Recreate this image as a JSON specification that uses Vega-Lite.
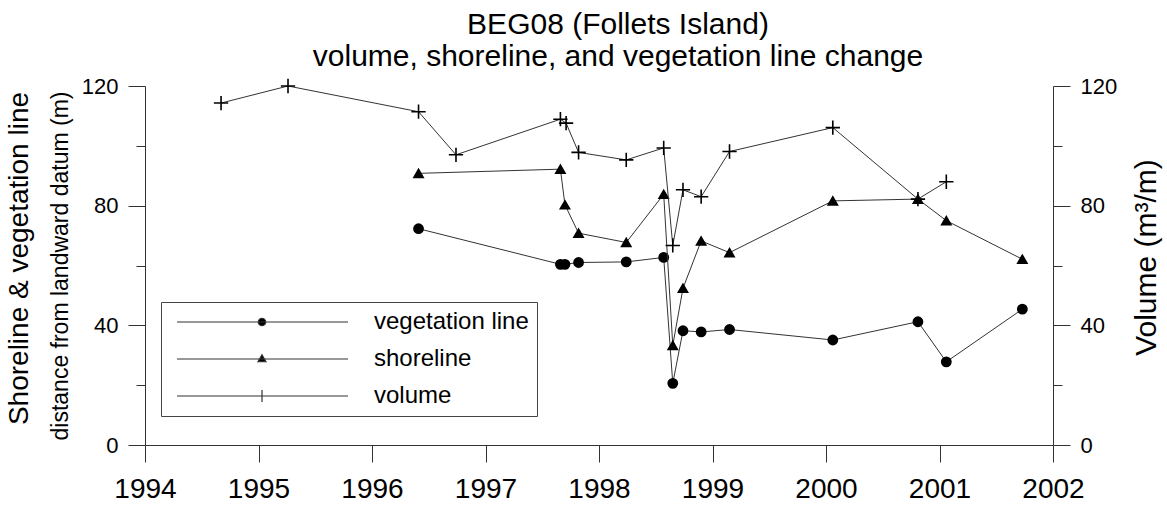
{
  "$schema": "https://vega.github.io/schema/vega-lite/v6.json",
  "width": 908,
  "height": 359,
  "autosize": "none",
  "padding": {"left": 145, "top": 86, "right": 114, "bottom": 61},
  "background": "white",
  "config": {
    "font": "Liberation Sans",
    "view": {"stroke": null},
    "axis": {"grid": false, "domainColor": "#333", "tickColor": "#333", "labelColor": "black", "titleColor": "black", "titleFontWeight": "normal", "domainWidth": 1, "tickWidth": 1}
  },
  "title": {
    "text": ["BEG08 (Follets Island)", "volume, shoreline, and vegetation line change"],
    "fontSize": 30, "fontWeight": "normal", "lineHeight": 32, "anchor": "middle", "frame": "group", "offset": 3, "dx": 19, "color": "black"
  },
  "data": {"values": [
    {"series": "vegetation line", "year": 1996.41, "value": 72.3},
    {"series": "vegetation line", "year": 1997.66, "value": 60.4},
    {"series": "vegetation line", "year": 1997.70, "value": 60.4},
    {"series": "vegetation line", "year": 1997.82, "value": 61.0},
    {"series": "vegetation line", "year": 1998.24, "value": 61.2},
    {"series": "vegetation line", "year": 1998.57, "value": 62.7},
    {"series": "vegetation line", "year": 1998.65, "value": 20.6},
    {"series": "vegetation line", "year": 1998.74, "value": 38.2},
    {"series": "vegetation line", "year": 1998.90, "value": 37.8},
    {"series": "vegetation line", "year": 1999.15, "value": 38.6},
    {"series": "vegetation line", "year": 2000.06, "value": 35.1},
    {"series": "vegetation line", "year": 2000.81, "value": 41.2},
    {"series": "vegetation line", "year": 2001.06, "value": 27.8},
    {"series": "vegetation line", "year": 2001.73, "value": 45.4},
    {"series": "shoreline", "year": 1996.41, "value": 90.8},
    {"series": "shoreline", "year": 1997.66, "value": 92.2},
    {"series": "shoreline", "year": 1997.70, "value": 80.3},
    {"series": "shoreline", "year": 1997.82, "value": 70.8},
    {"series": "shoreline", "year": 1998.24, "value": 67.7},
    {"series": "shoreline", "year": 1998.57, "value": 83.8},
    {"series": "shoreline", "year": 1998.65, "value": 33.3},
    {"series": "shoreline", "year": 1998.74, "value": 52.4},
    {"series": "shoreline", "year": 1998.90, "value": 68.2},
    {"series": "shoreline", "year": 1999.15, "value": 64.3},
    {"series": "shoreline", "year": 2000.06, "value": 81.6},
    {"series": "shoreline", "year": 2000.81, "value": 82.2},
    {"series": "shoreline", "year": 2001.06, "value": 75.0},
    {"series": "shoreline", "year": 2001.73, "value": 62.1},
    {"series": "volume", "year": 1994.67, "value": 114.3},
    {"series": "volume", "year": 1995.26, "value": 120.0},
    {"series": "volume", "year": 1996.41, "value": 111.4},
    {"series": "volume", "year": 1996.74, "value": 97.0},
    {"series": "volume", "year": 1997.66, "value": 108.9},
    {"series": "volume", "year": 1997.71, "value": 107.6},
    {"series": "volume", "year": 1997.82, "value": 97.8},
    {"series": "volume", "year": 1998.24, "value": 95.3},
    {"series": "volume", "year": 1998.57, "value": 99.3},
    {"series": "volume", "year": 1998.65, "value": 66.7},
    {"series": "volume", "year": 1998.74, "value": 85.3},
    {"series": "volume", "year": 1998.90, "value": 83.0},
    {"series": "volume", "year": 1999.15, "value": 98.1},
    {"series": "volume", "year": 2000.06, "value": 106.1},
    {"series": "volume", "year": 2000.81, "value": 82.2},
    {"series": "volume", "year": 2001.06, "value": 88.0}
  ]},
  "encoding": {
    "x": {
      "field": "year", "type": "quantitative",
      "scale": {"domain": [1994, 2002], "nice": false, "zero": false},
      "axis": {"values": [1994, 1995, 1996, 1997, 1998, 1999, 2000, 2001, 2002], "format": "d", "tickSize": 17, "labelFontSize": 28, "labelPadding": 13, "title": null, "labelFlush": false, "labelOverlap": false}
    }
  },
  "layer": [
    {
      "transform": [{"filter": "datum.series === 'vegetation line'"}],
      "encoding": {
        "y": {
          "field": "value", "type": "quantitative",
          "scale": {"domain": [0, 120], "nice": false},
          "axis": {
            "orient": "left", "values": [0, 20, 40, 60, 80, 100, 120],
            "labelExpr": "datum.value % 40 === 0 ? datum.label : ''",
            "tickSize": {"condition": {"test": "datum.value % 40 === 0", "value": 17}, "value": 9},
            "labelPadding": 10, "labelFontSize": 22,
            "title": "distance from landward datum (m)", "titleFontSize": 23, "titlePadding": 9
          }
        }
      },
      "layer": [
        {
          "mark": {"type": "line", "strokeWidth": 1},
          "encoding": {
            "color": {
              "field": "series", "type": "nominal",
              "scale": {"domain": ["vegetation line", "shoreline", "volume"], "range": ["#333", "#333", "#333"]},
              "legend": {
                "orient": "none", "legendX": 16, "legendY": 216, "title": null,
                "symbolSize": 100, "labelFontSize": 24, "labelOffset": 181, "rowPadding": 13, "padding": 8,
                "strokeColor": "#444", "fillColor": "white", "labelColor": "black",
                "encode": {"symbols": {"update": {
                  "shape": {"signal": "datum.value === 'vegetation line' ? 'M-0.8,0H33.4M16.95,0A0.75,0.75 0 1,1 15.45,0A0.75,0.75 0 1,1 16.95,0Z' : datum.value === 'shoreline' ? 'M-0.8,0H33.4M16.2,-0.85L17.0,0.55L15.4,0.55Z' : 'M-0.8,0H33.4M16.2,-1.2V1.2'"},
                  "fill": {"value": "black"},
                  "strokeWidth": {"value": 1.2},
                  "opacity": {"value": 1}
                }}}
              }
            }
          }
        },
        {"mark": {"type": "point", "shape": "circle", "filled": true, "color": "black", "size": 85, "strokeWidth": 1.6, "stroke": "black", "opacity": 1}}
      ]
    },
    {
      "transform": [{"filter": "datum.series === 'shoreline'"}],
      "encoding": {
        "y": {
          "field": "value", "type": "quantitative",
          "scale": {"domain": [0, 120], "nice": false},
          "axis": {"orient": "left", "labels": false, "ticks": false, "domain": false, "title": "Shoreline & vegetation line", "titleFontSize": 28, "titlePadding": 112, "titleY": 172}
        }
      },
      "layer": [
        {"mark": {"type": "line", "color": "#333", "strokeWidth": 1}},
        {"mark": {"type": "point", "shape": "triangle-up", "filled": true, "color": "black", "size": 85, "strokeWidth": 1.6, "stroke": "black", "opacity": 1}}
      ]
    },
    {
      "transform": [{"filter": "datum.series === 'volume'"}],
      "encoding": {
        "y": {
          "field": "value", "type": "quantitative",
          "scale": {"domain": [0, 120], "nice": false},
          "axis": {
            "orient": "right", "values": [0, 20, 40, 60, 80, 100, 120],
            "labelExpr": "datum.value % 40 === 0 ? datum.label : ''",
            "tickSize": {"condition": {"test": "datum.value % 40 === 0", "value": 17}, "value": 9},
            "labelPadding": 10, "labelFontSize": 22,
            "title": "Volume (m³/m)", "titleFontSize": 30, "titlePadding": 15, "titleAngle": 270, "titleBaseline": "top", "titleY": 171
          }
        }
      },
      "layer": [
        {"mark": {"type": "line", "color": "#333", "strokeWidth": 1}},
        {"mark": {"type": "point", "shape": "M-1.55,0H1.55M0,-1.55V1.55", "filled": true, "color": "black", "size": 85, "strokeWidth": 1.6, "stroke": "black", "opacity": 1}}
      ]
    }
  ],
  "resolve": {"scale": {"y": "independent"}}
}
